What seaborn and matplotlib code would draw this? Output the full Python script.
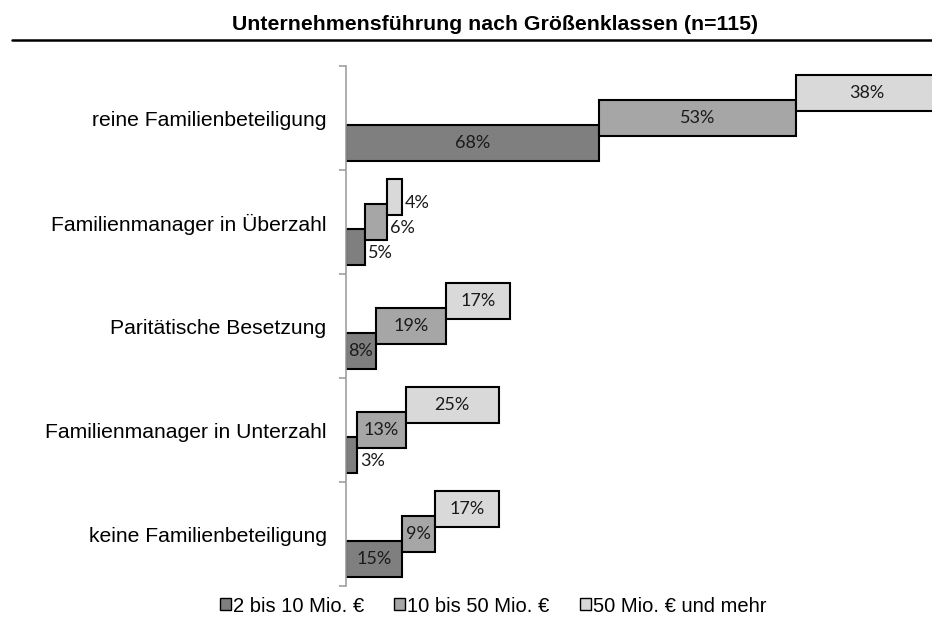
import matplotlib
matplotlib.use("Agg")
import matplotlib.pyplot as plt
import seaborn as sns
import pandas as pd
import numpy as np
from matplotlib.lines import Line2D
from matplotlib.patches import Patch

categories = ["reine Familienbeteiligung", "Familienmanager in Überzahl",
              "Paritätische Besetzung", "Familienmanager in Unterzahl",
              "keine Familienbeteiligung"]
series_names = ["2 bis 10 Mio. €", "10 bis 50 Mio. €", "50 Mio. € und mehr"]
small = [68, 5, 8, 3, 15]
medium = [53, 6, 19, 13, 9]
large = [38, 4, 17, 25, 17]
title = "Unternehmensführung nach Größenklassen (n=115)"

colors = ["#7F7F7F", "#A6A6A6", "#D9D9D9"]

sns.set_theme(style="white")
plt.rcParams["font.family"] = ["Liberation Sans", "DejaVu Sans"]
plt.rcParams["text.color"] = "black"
plt.rcParams["ytick.labelcolor"] = "black"

W, H = 932, 619
fig = plt.figure(figsize=(W / 100, H / 100), dpi=100)
ax = fig.add_axes([346 / W, 1 - 586 / H, 1 - 346 / W, (586 - 66) / H])

values = [small, medium, large]
offsets = [0.24, 0.0, -0.24]
left = np.zeros(len(categories))
lab_font = ["Lato", "DejaVu Sans"]
for vals, off, col in zip(values, offsets, colors):
    df = pd.DataFrame({"pos": np.arange(len(categories)) + off, "val": vals})
    sns.barplot(data=df, x="val", y="pos", orient="h", native_scale=True,
                width=0.35, color=col, saturation=1, edgecolor="black",
                linewidth=1.5, left=left.copy(), errorbar=None, ax=ax)
    for j, v in enumerate(vals):
        y = j + off
        if v >= 8:
            ax.text(left[j] + v / 2, y, f"{v}%", ha="center", va="center",
                    fontsize=13, family=lab_font, color="#1a1a1a")
        else:
            ax.text(left[j] + v + 0.8, y + 0.06, f"{v}%", ha="left", va="center",
                    fontsize=13, family=lab_font, color="#1a1a1a")
    left = left + np.array(vals)

ax.set_xlim(0, 157.5)
ax.set_ylim(4.5, -0.5)
ax.set_xlabel("")
ax.set_ylabel("")
ax.set_xticks([])
ax.set_yticks(np.arange(-0.5, 5.0, 1.0))
ax.set_yticklabels([])
ax.set_yticks(np.arange(len(categories)), minor=True)
ax.set_yticklabels(categories, minor=True, fontsize=15.2, color="black")
ax.tick_params(axis="y", which="major", length=5, width=1.2, color="#A0A0A0",
               direction="out", left=True)
ax.tick_params(axis="y", which="minor", length=0, pad=14, left=True)
for s in ["top", "right", "bottom"]:
    ax.spines[s].set_visible(False)
ax.spines["left"].set_color("#A0A0A0")
ax.spines["left"].set_linewidth(1.2)
ax.set_facecolor("none")

fig.text(494.5 / W, 1 - 30 / H, title, ha="center", va="baseline",
         fontsize=15.3, fontweight="bold", color="black")
fig.add_artist(Line2D([12 / W, 1.0], [1 - 39.5 / H] * 2, color="black", lw=1.8))

handles = [Patch(facecolor=c, edgecolor="black", linewidth=1) for c in colors]
fig.legend(handles, series_names, loc="center", bbox_to_anchor=(493 / W, 1 - 606 / H),
           ncol=3, frameon=False, handlelength=0.55, handleheight=0.55,
           handletextpad=0.1, columnspacing=1.5, fontsize=14.5)

fig.savefig("out.png", dpi=100)
